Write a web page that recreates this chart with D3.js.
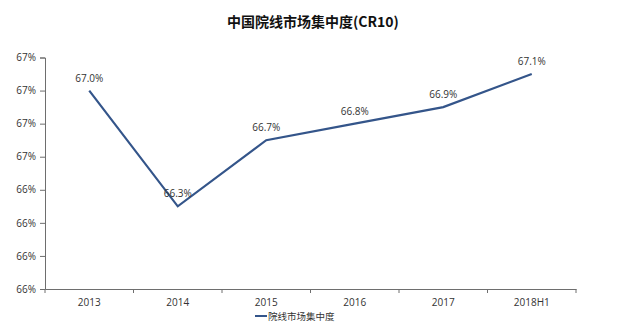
<!DOCTYPE html>
<html>
<head>
<meta charset="utf-8">
<script src="https://cdn.jsdelivr.net/npm/d3@7"></script>
<style>
  html, body { margin: 0; padding: 0; background: #fff; }
  svg { display: block; }
</style>
</head>
<body>
<svg id="chart" width="621" height="332"></svg>
<script>
// CR10 concentration of China's cinema circuits, in percent
const categories = ["2013", "2014", "2015", "2016", "2017", "2018H1"];
const values = [67.0, 66.3, 66.7, 66.8, 66.9, 67.1];
const yTicks = [65.8, 66.0, 66.2, 66.4, 66.6, 66.8, 67.0, 67.2];
const title = "中国院线市场集中度(CR10)";
const seriesName = "院线市场集中度";

const svg = d3.select("#chart");
const W = 621, H = 332;
const m = { left: 45, right: 45, top: 57.5, bottom: 43 };
const numFont = "'Open Sans', 'Noto Sans CJK SC', sans-serif";
const cjkFont = "'Noto Sans CJK SC', sans-serif";
const lineColor = "#34558a";
const axisColor = "#6e6e6e";

const x = d3.scaleBand().domain(categories).range([m.left, W - m.right]);
const y = d3.scaleLinear().domain([65.8, 67.2]).range([H - m.bottom, m.top]);

// title
svg.append("text")
  .attr("x", 313).attr("y", 27)
  .attr("text-anchor", "middle")
  .attr("font-family", cjkFont)
  .attr("font-weight", "bold")
  .attr("font-size", 14)
  .attr("fill", "#111")
  .text(title);

// y axis: labels are rounded to whole percents
const yAxis = d3.axisLeft(y).tickValues(yTicks).tickSize(5).tickPadding(4)
  .tickFormat(d => d3.format(".0f")(d) + "%");
const gy = svg.append("g").attr("transform", `translate(${m.left},0)`).call(yAxis);
gy.select(".domain").attr("stroke", axisColor);
gy.selectAll(".tick line").attr("stroke", axisColor);
gy.selectAll(".tick text").attr("font-family", numFont).attr("font-size", 10).attr("fill", "#333");

// x axis with ticks at band boundaries
const xAxis = d3.axisBottom(x).tickSize(0).tickPadding(10);
const gx = svg.append("g").attr("transform", `translate(0,${H - m.bottom})`).call(xAxis);
gx.select(".domain").attr("stroke", axisColor);
gx.selectAll(".tick text").attr("font-family", numFont).attr("font-size", 10).attr("fill", "#333");
const bounds = categories.map(c => x(c)).concat([x(categories[categories.length - 1]) + x.bandwidth()]);
gx.selectAll(".bound").data(bounds).enter().append("line")
  .attr("x1", d => d).attr("x2", d => d)
  .attr("y1", 0).attr("y2", 4)
  .attr("stroke", axisColor);

// line
const cx = d => x(d) + x.bandwidth() / 2;
const pts = categories.map((c, i) => [cx(c), y(values[i])]);
svg.append("path")
  .attr("d", d3.line()(pts))
  .attr("fill", "none")
  .attr("stroke", lineColor)
  .attr("stroke-width", 2.2)
  .attr("stroke-linejoin", "miter");

// value labels
svg.selectAll(".vlab").data(categories).enter().append("text")
  .attr("x", d => cx(d))
  .attr("y", (d, i) => y(values[i]) - 9)
  .attr("text-anchor", "middle")
  .attr("font-family", numFont)
  .attr("font-size", 10)
  .attr("fill", "#333")
  .text((d, i) => d3.format(".1f")(values[i]) + "%");

// legend
const lg = svg.append("g").attr("transform", "translate(255,316)");
lg.append("line").attr("x1", 0).attr("x2", 12).attr("y1", 0).attr("y2", 0)
  .attr("stroke", lineColor).attr("stroke-width", 2);
lg.append("text").attr("x", 13).attr("y", 3.5)
  .attr("font-family", cjkFont).attr("font-size", 9.5).attr("fill", "#333")
  .text(seriesName);
</script>
</body>
</html>
